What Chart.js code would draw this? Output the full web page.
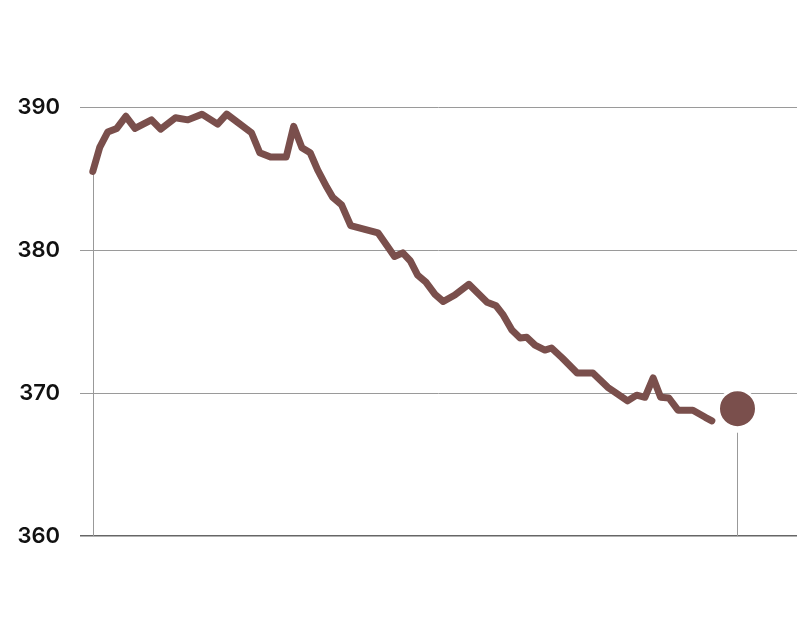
<!DOCTYPE html>
<html>
<head>
<meta charset="utf-8">
<script src="https://cdn.jsdelivr.net/npm/chart.js@4/dist/chart.umd.min.js"></script>
<style>
  html, body { margin: 0; padding: 0; background: #fff; }
</style>
</head>
<body>
<canvas id="chart" width="808" height="626"></canvas>
<script>
// positions along the time axis (one unit ~ one period) and readings
const times = [0, 0.85, 1.8, 2.9, 4.0, 5.1, 7.1, 8.2, 10.0, 11.5, 13.2, 15.1, 16.2,
    19.2, 20.2, 21.5, 23.4, 24.3, 25.3, 26.3, 27.2, 28.3, 29.0, 30.1, 31.2,
    34.5, 35.6, 36.5, 37.5, 38.4, 39.3, 40.3, 41.4, 42.4, 43.8, 45.5, 47.7,
    48.8, 49.6, 50.7, 51.7, 52.5, 53.5, 54.7, 55.5, 56.8, 58.6, 60.5, 62.3,
    63.2, 64.7, 65.8, 66.8, 67.8, 68.7, 69.7, 70.8, 72.6, 74.1, 74.9];
const values = [385.5, 387.2, 388.25, 388.5, 389.35, 388.5, 389.1, 388.45, 389.25, 389.1, 389.5, 388.8, 389.5,
    388.2, 386.8, 386.5, 386.5, 388.65, 387.15, 386.8, 385.6, 384.4, 383.7, 383.15, 381.7,
    381.2, 380.3, 379.55, 379.8, 379.25, 378.25, 377.75, 376.9, 376.4, 376.85, 377.6, 376.35,
    376.1, 375.5, 374.4, 373.85, 373.9, 373.35, 373.0, 373.15, 372.45, 371.4, 371.4, 370.4,
    370.05, 369.45, 369.85, 369.7, 371.05, 369.7, 369.65, 368.8, 368.8, 368.3, 368.05];

const targetTime = 78;
const targetValue = 368.9;

const yTicks = [360, 370, 380, 390];

const lineColor = "#7a4f4c";

const series = times.map((t, i) => ({ x: t, y: values[i] }));

// thin grey drop lines from the first reading and from the target dot down to the base
const dropLines = {
    id: "dropLines",
    beforeDatasetsDraw(chart) {
        const { ctx, scales: { x, y } } = chart;
        const base = y.getPixelForValue(yTicks[0]);
        ctx.save();
        ctx.strokeStyle = "#999";
        ctx.lineWidth = 1;
        ctx.beginPath();
        const x0 = Math.round(x.getPixelForValue(times[0])) + 0.5;
        ctx.moveTo(x0, y.getPixelForValue(values[0]));
        ctx.lineTo(x0, base);
        const x1 = Math.round(x.getPixelForValue(targetTime)) + 0.5;
        ctx.moveTo(x1, y.getPixelForValue(targetValue) + 24);
        ctx.lineTo(x1, base);
        ctx.stroke();
        ctx.restore();
    }
};

new Chart(document.getElementById("chart"), {
    type: "line",
    data: {
        datasets: [
            {
                data: series,
                borderColor: lineColor,
                borderWidth: 7,
                pointRadius: 0,
                tension: 0,
                borderJoinStyle: "round",
                borderCapStyle: "round"
            },
            {
                data: [{ x: targetTime, y: targetValue }],
                showLine: false,
                pointRadius: 19,
                pointBackgroundColor: lineColor,
                pointBorderColor: "#fff",
                pointBorderWidth: 3
            }
        ]
    },
    options: {
        responsive: false,
        animation: false,
        layout: { autoPadding: false, padding: { top: 107, bottom: 90, left: 0, right: 11 } },
        plugins: {
            legend: { display: false },
            tooltip: { enabled: false }
        },
        scales: {
            x: {
                type: "linear",
                display: false,
                min: -1.55,
                max: 85.2
            },
            y: {
                min: 360,
                max: 390,
                border: { display: false },
                afterFit: s => { s.width = 80; },
                afterBuildTicks: s => { s.ticks = yTicks.map(v => ({ value: v })); },
                grid: {
                    drawTicks: false,
                    color: c => c.tick && c.tick.value === 360 ? "#666" : "#9a9a9a",
                    lineWidth: c => c.tick && c.tick.value === 360 ? 1.5 : 1
                },
                ticks: {
                    padding: 20,
                    color: "#111",
                    font: { family: "Inter", size: 22, weight: "600" }
                }
            }
        }
    },
    plugins: [dropLines]
});
</script>
</body>
</html>
